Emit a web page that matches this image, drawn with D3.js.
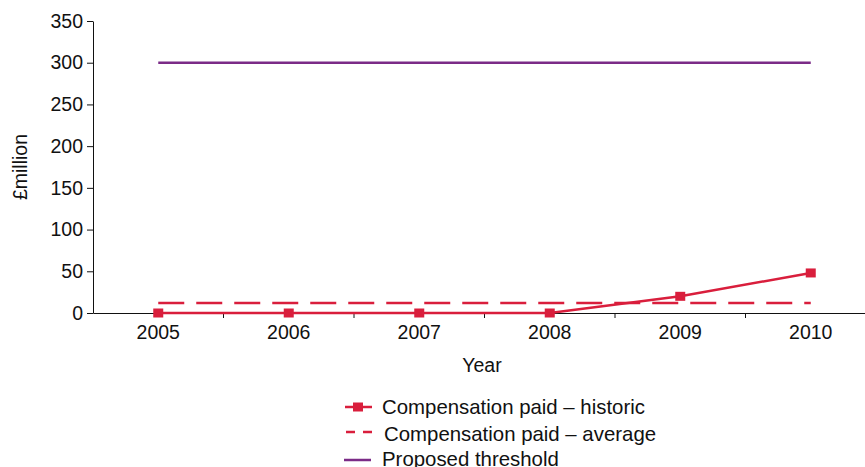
<!DOCTYPE html>
<html>
<head>
<meta charset="utf-8">
<script src="https://cdn.jsdelivr.net/npm/d3@7"></script>
<style>
  body { margin: 0; background: #fff; }
  svg text { font-family: "Liberation Sans", Arial, sans-serif; fill: #111; }
</style>
</head>
<body>
<div id="chart"></div>
<script>
const years = ["2005", "2006", "2007", "2008", "2009", "2010"];
const historic = [0, 0, 0, 0, 20, 48];
const average = [12, 12, 12, 12, 12, 12];
const threshold = [300, 300, 300, 300, 300, 300];
const yTicks = [0, 50, 100, 150, 200, 250, 300, 350];
const legendLabels = ["Compensation paid \u2013 historic", "Compensation paid \u2013 average", "Proposed threshold"];

const red = "#d91e3c";
const purple = "#7b2b87";
const width = 865, height = 467;
const fontSize = "19.5px";

const svg = d3.select("#chart")
    .append("svg")
        .attr("width", width)
        .attr("height", height);

// scales
const x = d3.scaleBand()
    .domain(years)
    .range([93, 876]);
const y = d3.scaleLinear()
    .domain([0, 350])
    .range([313, 21]);

// y axis
svg.append("g")
    .attr("transform", "translate(93,0)")
    .call(d3.axisLeft(y).tickValues(yTicks).tickSize(6).tickSizeOuter(0).tickPadding(4))
    .call(g => g.selectAll("text").style("font-size", fontSize))
    .call(g => g.selectAll("line, path").attr("stroke", "#111"));

// x axis with ticks between categories
svg.append("g")
    .attr("transform", "translate(0,313)")
    .call(d3.axisBottom(x).tickSize(0).tickPadding(12))
    .call(g => g.selectAll("text").style("font-size", fontSize))
    .call(g => g.select(".domain").attr("stroke", "#111"));

svg.append("g")
    .selectAll("line")
    .data(years.slice(1))
    .join("line")
        .attr("x1", d => x(d))
        .attr("x2", d => x(d))
        .attr("y1", 313)
        .attr("y2", 318)
        .attr("stroke", "#111");

// axis titles
svg.append("text")
    .attr("transform", "translate(27,167) rotate(-90)")
    .attr("text-anchor", "middle")
    .style("font-size", fontSize)
    .text("\u00a3million");
svg.append("text")
    .attr("x", 482)
    .attr("y", 372)
    .attr("text-anchor", "middle")
    .style("font-size", fontSize)
    .text("Year");

const cx = d => x(d) + x.bandwidth() / 2;
const line = vals => d3.line()
    .x((d, i) => cx(years[i]))
    .y(d => y(d))(vals);

// threshold
svg.append("path")
    .attr("d", line(threshold))
    .attr("fill", "none")
    .attr("stroke", purple)
    .attr("stroke-width", 2.5);

// average (dashed)
svg.append("path")
    .attr("d", line(average))
    .attr("fill", "none")
    .attr("stroke", red)
    .attr("stroke-width", 2.5)
    .attr("stroke-dasharray", "26,12");

// historic
svg.append("path")
    .attr("d", line(historic))
    .attr("fill", "none")
    .attr("stroke", red)
    .attr("stroke-width", 2.5);

svg.append("g")
    .selectAll("rect")
    .data(historic)
    .join("rect")
        .attr("x", (d, i) => cx(years[i]) - 5)
        .attr("y", d => y(d) - 4.5)
        .attr("width", 10)
        .attr("height", 9)
        .attr("fill", red);

// legend
const legendY = [407, 432, 460];
const legendBase = [414, 441, 466];
const lg = svg.append("g");
// historic sample
lg.append("line").attr("x1", 345).attr("x2", 372).attr("y1", legendY[0]).attr("y2", legendY[0])
    .attr("stroke", red).attr("stroke-width", 2.5);
lg.append("rect").attr("x", 353).attr("y", legendY[0] - 4.5).attr("width", 10).attr("height", 9).attr("fill", red);
// average sample
lg.append("line").attr("x1", 346).attr("x2", 372).attr("y1", legendY[1]).attr("y2", legendY[1])
    .attr("stroke", red).attr("stroke-width", 2.5).attr("stroke-dasharray", "9,8");
// threshold sample
lg.append("line").attr("x1", 344).attr("x2", 371).attr("y1", legendY[2]).attr("y2", legendY[2])
    .attr("stroke", purple).attr("stroke-width", 2.5);

lg.selectAll("text")
    .data(legendLabels)
    .join("text")
        .attr("x", (d, i) => i === 1 ? 384 : 382)
        .attr("y", (d, i) => legendBase[i])
        .style("font-size", "20.4px")
        .text(d => d);
</script>
</body>
</html>
